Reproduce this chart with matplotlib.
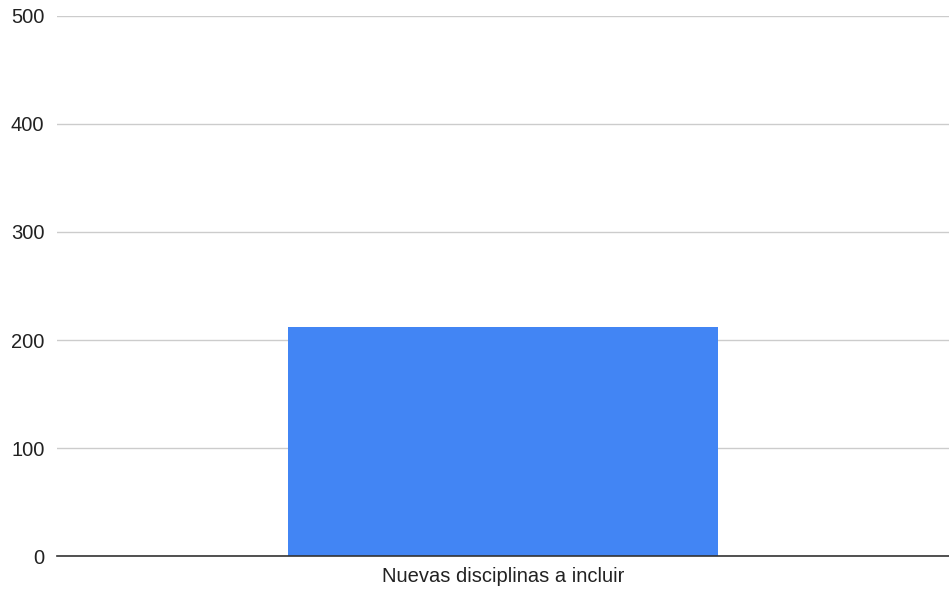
import matplotlib.pyplot as plt

categories = ['Nuevas disciplinas a incluir']
values = [212]
yticks = [0, 100, 200, 300, 400, 500]

plt.rcParams['font.family'] = ['Liberation Sans', 'DejaVu Sans']

fig = plt.figure(figsize=(9.49, 5.90), dpi=100)
ax = fig.add_axes([0.060, 0.0576, 0.940, 0.9153])

ax.bar(categories, values, width=0.483, color='#4285f4', zorder=3)
ax.set_xlim(-0.5, 0.5)
ax.set_ylim(0, 500)
ax.set_yticks(yticks)
ax.yaxis.grid(True, color='#cccccc', linewidth=1, zorder=0)

for side in ['top', 'right', 'left']:
    ax.spines[side].set_visible(False)
ax.spines['bottom'].set_color('#333333')
ax.spines['bottom'].set_linewidth(1.2)
ax.spines['bottom'].set_zorder(4)

ax.tick_params(axis='both', length=0, labelsize=14.5, colors='#222222')
ax.tick_params(axis='y', pad=9)
ax.tick_params(axis='x', pad=8)

fig.savefig('out.png', dpi=100)
